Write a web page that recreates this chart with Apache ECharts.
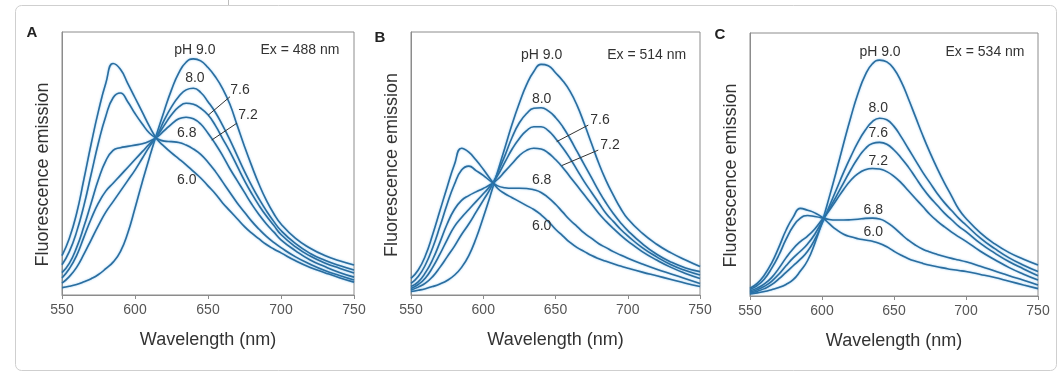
<!DOCTYPE html>
<html>
<head>
<meta charset="utf-8">
<script src="https://cdn.jsdelivr.net/npm/echarts@6/dist/echarts.min.js"></script>
<style>
  html, body { margin: 0; padding: 0; background: #fff; }
  #chart { width: 1059px; height: 374px; }
</style>
</head>
<body>
<div id="chart"></div>
<script>
// Emission wavelengths (nm) shared by every spectrum
const wavelengths = [550, 555, 560, 565, 570, 575, 580, 585, 590, 595, 600, 605, 610, 615, 620,
  625, 630, 635, 640, 645, 650, 655, 660, 665, 670, 675, 680, 685, 690, 695, 700,
  710, 720, 730, 740, 750];
const xTicks = [550, 600, 650, 700, 750];
const phLabels = ['9.0', '8.0', '7.6', '7.2', '6.8', '6.0'];
const panelLetters = ['A', 'B', 'C'];
const excitation = ['Ex = 488 nm', 'Ex = 514 nm', 'Ex = 534 nm'];

// Panel A, excitation 488 nm (relative emission)
const a90 = [2.8, 3.3, 4, 5, 6.2, 7.8, 10, 12.5, 16.5, 23.5, 33, 43, 52.5, 61.5, 70, 78, 84.5, 88.5, 89.8, 89, 86.5, 83, 78.5, 72.5, 64.5, 56.5, 49, 42, 36, 31, 27, 21.5, 17.8, 15, 13, 11.4];
const a80 = [4.5, 7, 10.5, 15.5, 21, 26.5, 31.5, 35.5, 39.5, 43.5, 47.5, 52, 56.5, 60.5, 66.5, 71.5, 75.5, 78, 78.6, 77, 73.5, 69.5, 64.5, 59, 53, 47, 41.5, 36.5, 32, 28, 24.5, 19.5, 15.8, 13.2, 11.2, 9.5];
const a76 = [6.5, 10, 15, 22, 29, 35, 39.5, 42.5, 45.5, 48.5, 51.5, 54.5, 57.5, 60.3, 64.5, 68.5, 71.5, 72.9, 72.5, 71, 68.5, 64.5, 59.5, 54.5, 49, 43.5, 38.5, 34, 30, 26.5, 23, 18.3, 14.8, 12.2, 10.2, 8.4];
const a72 = [8.5, 12, 18, 26, 35, 44, 51, 55, 56, 56.5, 57, 57.5, 58.5, 60, 62.5, 65, 67, 67.6, 67, 65, 61.5, 57.5, 53, 48, 43.5, 39, 34.5, 30.5, 27, 24, 21, 16.8, 13.3, 10.8, 8.6, 6.8];
const a68 = [11.5, 16.5, 24, 34, 46, 58, 68, 75, 76.8, 73.5, 69, 65, 61.5, 59.5, 58.5, 58.3, 58, 57, 55.5, 53.5, 50.5, 47, 43, 39, 35, 31.5, 28, 25, 22.3, 20, 18, 14.5, 11.7, 9.3, 7.4, 5.7];
const a60 = [15, 21.5, 31, 44, 57.5, 70, 80.5, 88, 85.8, 80.5, 75, 69.5, 64, 59.3, 56.5, 54, 51.8, 49.5, 47, 44.5, 41.5, 38.5, 35, 32, 29, 26, 23.5, 21.3, 19.2, 17.5, 16, 13, 10.5, 8.5, 6.6, 4.9];

// Panel B, excitation 514 nm
const b90 = [1.3, 1.8, 2.4, 3.2, 4.2, 5.5, 7.5, 10.5, 15, 21.5, 29.5, 38, 47, 56, 65, 73, 80, 85, 87.7, 87.2, 84.5, 81.5, 77.5, 72, 65, 57.5, 50, 43.5, 38, 33, 29, 23.5, 19.3, 16, 13.3, 10.8];
const b80 = [1.9, 3, 4.5, 7, 10.5, 14.5, 18.5, 23, 27, 31.5, 36, 40.5, 46.5, 53, 60, 65.5, 69, 71, 71.2, 70, 67.5, 64, 59.5, 54.5, 49.5, 44.5, 39.5, 35, 31, 27.5, 24.5, 19.5, 15.5, 12.5, 10.3, 8.9];
const b76 = [2.5, 4, 6.5, 10.5, 15.5, 21, 26, 29.5, 32.5, 35.5, 38.5, 41.5, 45.5, 50.5, 55.5, 59.5, 62.5, 64, 64, 62.5, 59.5, 56, 52, 47.5, 43, 39, 35, 31, 28, 25, 22.5, 18, 14.5, 11.5, 9.3, 7.6];
const b72 = [3.2, 5, 8.5, 13.5, 20, 27, 32.5, 36, 37.8, 39.2, 40.5, 42, 44, 47, 50, 53, 55, 55.8, 55.5, 54, 51.5, 48.5, 45, 41.5, 38, 34.5, 31, 28, 25.3, 22.8, 20.5, 16.5, 13.3, 10.5, 8.2, 6.3];
const b68 = [4.4, 7, 11.5, 18, 26, 34.5, 42, 47.5, 49, 47.3, 45.5, 43.3, 41.5, 40.8, 40.6, 40.6, 40.5, 40, 39, 37, 34.5, 31.5, 28.5, 26, 23.5, 21.5, 19.5, 18, 16.5, 15.2, 14, 11.8, 9.8, 8, 6.2, 4.4];
const b60 = [6.3, 9.5, 15, 23, 32, 41, 49.5, 55.8, 54.3, 51.3, 47.8, 44, 40.5, 38.5, 37, 35.5, 34, 32.5, 30.5, 28, 25, 22.5, 20, 18, 16.5, 15, 13.8, 12.8, 11.9, 11, 10.2, 8.7, 7.3, 5.9, 4.5, 3.2];

// Panel C, excitation 534 nm
const c90 = [0.8, 1.2, 1.7, 2.4, 3.2, 4.4, 6.2, 9.5, 13.5, 20, 28, 37.5, 47.5, 58, 68, 77, 84, 88.3, 89.7, 89, 86.3, 81.5, 75, 68, 61, 54.5, 48.5, 43, 38, 33, 29.5, 24, 19.8, 16.5, 14, 11.8];
const c80 = [1.2, 1.8, 2.8, 4.3, 6.5, 9, 11.5, 14, 17, 21.5, 27.5, 34, 40.5, 47, 53, 58.5, 63, 66.3, 67.6, 67, 64.5, 60.5, 56, 51.5, 47, 43, 39, 35.5, 32.5, 29.5, 27, 22, 18, 14.5, 11.7, 9.3];
const c76 = [1.6, 2.4, 3.7, 5.6, 8.3, 11.5, 14.5, 17, 19.8, 23.5, 28.3, 33, 38, 43, 48, 52.5, 56, 58, 58.4, 57.7, 55.5, 52.5, 49, 45, 41, 37.5, 34.5, 31.5, 29, 26.5, 24.5, 20, 16.3, 13, 10.3, 7.7];
const c72 = [2, 3, 4.6, 7, 10.5, 14.5, 18, 20.7, 22.8, 25.5, 29, 32.5, 36.5, 40.5, 44, 46.5, 48, 48.5, 48.3, 47.3, 45.5, 43, 40, 37, 34, 31, 28.5, 26.3, 24.3, 22.5, 20.8, 17, 13.8, 10.8, 8.3, 6.1];
const c68 = [2.5, 4, 6.5, 10.5, 15.5, 21.5, 26.5, 29.6, 30.6, 30.2, 29.7, 29.1, 28.9, 28.9, 29, 29.2, 29.5, 29.6, 29.3, 28, 26, 23.5, 21.2, 19.3, 17.8, 16.7, 15.8, 15, 14.3, 13.7, 13, 11.3, 9.5, 7.7, 6, 4.2];
const c60 = [3, 4.8, 8, 12.5, 18.5, 25, 30, 33.3, 32.6, 31.6, 30, 27.5, 25.2, 23.5, 22.5, 21.8, 21.3, 20.8, 20, 18.7, 17, 15.5, 14.2, 13.2, 12.4, 11.7, 11.1, 10.6, 10.1, 9.7, 9.3, 8.2, 7, 5.6, 4.2, 2.8];

const panelSpectra = [
  [a90, a80, a76, a72, a68, a60],
  [b90, b80, b76, b72, b68, b60],
  [c90, c80, c76, c72, c68, c60]
];

const FONT = 'Liberation Sans, Arial, Helvetica, sans-serif';
const LINE = '#2b6d9e';
const TEXT = '#333';

// Plot rectangles for the three panels
const grids = [
  { left: 62, top: 32, width: 292, height: 263 },
  { left: 411, top: 32, width: 289, height: 263 },
  { left: 750, top: 33, width: 288, height: 263 }
];
// Vertical nudge for the y-axis title of each panel (local padding of rotated text)
const yNamePad = [[0, 22, 0, 0], [0, 3, 0, 0], [0, 22, 0, 0]];

// Curve annotations in data coordinates: [text, wavelength, value]
const annotations = [
  [['pH ' + phLabels[0], 641, 93.2], [phLabels[1], 641, 82.5], [phLabels[2], 671.9, 77.9],
   [phLabels[3], 677.4, 68.4], [phLabels[4], 635.4, 61.5], [phLabels[5], 635.4, 43.7],
   [excitation[0], 713, 93.2]],
  [['pH ' + phLabels[0], 640.4, 91.3], [phLabels[1], 640.4, 74.4], [phLabels[2], 680.8, 66.5],
   [phLabels[3], 687.7, 57], [phLabels[4], 640.4, 43.7], [phLabels[5], 640.4, 26],
   [excitation[1], 713.1, 91.3]],
  [['pH ' + phLabels[0], 640.3, 92.9], [phLabels[1], 639.1, 71.4], [phLabels[2], 639.1, 61.9],
   [phLabels[3], 639.1, 51.4], [phLabels[4], 635.6, 32.7], [phLabels[5], 635.6, 24.1],
   [excitation[2], 713.2, 92.9]]
];
// Leader lines from a curve out to its label
const leaders = [
  [[[650.2, 68.4], [665.1, 75.4]], [[652.5, 58.9], [669.7, 65.3]]],
  [[[650.8, 58.3], [672.7, 64.6]], [[654.3, 49.2], [679.6, 55.1]]],
  []
];

const xAxes = [], yAxes = [], series = [], gridOpts = [];
grids.forEach((g, i) => {
  gridOpts.push(Object.assign({ show: true, borderColor: '#8c8c8c', borderWidth: 1, backgroundColor: 'transparent' }, g));
  xAxes.push({
    type: 'value', gridIndex: i, min: xTicks[0], max: xTicks[xTicks.length - 1], interval: 50,
    name: 'Wavelength (nm)', nameLocation: 'middle', nameGap: 36,
    nameTextStyle: { fontFamily: FONT, fontSize: 18, color: TEXT },
    axisLine: { show: true, lineStyle: { color: '#8c8c8c', width: 1 } },
    axisTick: { show: true, inside: false, length: 4, lineStyle: { color: '#8c8c8c' } },
    axisLabel: { fontFamily: FONT, fontSize: 14, color: '#555', margin: 8 },
    splitLine: { show: false }
  });
  yAxes.push({
    type: 'value', gridIndex: i, min: 0, max: 100,
    name: 'Fluorescence emission', nameLocation: 'middle', nameGap: 10,
    nameTextStyle: { fontFamily: FONT, fontSize: 18, color: TEXT, padding: yNamePad[i] },
    axisLine: { show: true, lineStyle: { color: '#8c8c8c', width: 1 } },
    axisTick: { show: false }, axisLabel: { show: false }, splitLine: { show: false }
  });
  panelSpectra[i].forEach((vals, k) => {
    const s = {
      type: 'line', name: 'pH ' + phLabels[k], xAxisIndex: i, yAxisIndex: i,
      data: wavelengths.map((w, j) => [w, vals[j]]),
      smooth: 0.5, showSymbol: false, symbol: 'none',
      lineStyle: { color: LINE, width: 1.6, shadowColor: 'rgba(40,150,230,0.55)', shadowBlur: 2 },
      z: 3
    };
    if (k === 0) {
      s.markPoint = {
        symbol: 'circle', symbolSize: 0, silent: true,
        label: { show: true, position: 'inside', formatter: p => p.name, fontFamily: FONT, fontSize: 14, color: TEXT },
        data: annotations[i].map(a => ({ name: a[0], coord: [a[1], a[2]] }))
      };
      if (leaders[i].length) {
        s.markLine = {
          symbol: 'none', silent: true, label: { show: false },
          lineStyle: { color: '#333', width: 1, type: 'solid' },
          data: leaders[i].map(l => [{ coord: l[0] }, { coord: l[1] }])
        };
      }
    }
    series.push(s);
  });
});

const letterPos = [[32, 33], [380, 38], [720, 35]];
const graphic = [
  { type: 'rect', z: -10, shape: { x: 15.5, y: 5.5, width: 1041, height: 365, r: 6 },
    style: { fill: '#fff', stroke: '#cfcfcf', lineWidth: 1 } },
  { type: 'line', z: -10, shape: { x1: 228.5, y1: 0, x2: 228.5, y2: 5 }, style: { stroke: '#bdbdbd', lineWidth: 1 } }
].concat(panelLetters.map((t, i) => ({
  type: 'text', x: letterPos[i][0], y: letterPos[i][1],
  style: { text: t, font: 'bold 15px ' + FONT, fill: '#222', textAlign: 'center', textVerticalAlign: 'middle' }
})));

const chart = echarts.init(document.getElementById('chart'), null, { renderer: 'canvas' });
chart.setOption({
  animation: false,
  backgroundColor: '#fff',
  grid: gridOpts,
  xAxis: xAxes,
  yAxis: yAxes,
  series: series,
  graphic: graphic
});
</script>
</body>
</html>
